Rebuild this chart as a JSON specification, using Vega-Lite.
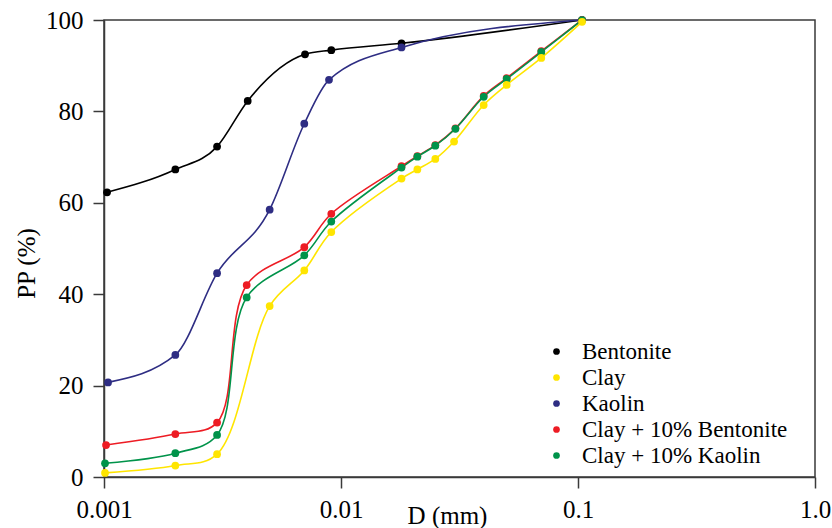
{
  "$schema": "https://vega.github.io/schema/vega-lite/v6.json",
  "width": 711,
  "height": 457,
  "autosize": {"type": "none"},
  "padding": {"left": 104, "top": 20, "right": 17, "bottom": 51},
  "background": "white",
  "config": {
    "font": "Liberation Serif",
    "view": {"stroke": "#3a3a3a", "strokeWidth": 1.5},
    "axis": {
      "labelFont": "Liberation Serif",
      "titleFont": "Liberation Serif",
      "labelFontSize": 25,
      "titleFontSize": 25,
      "titleFontWeight": "normal",
      "labelColor": "#000000",
      "titleColor": "#000000",
      "domainColor": "#3a3a3a",
      "tickColor": "#3a3a3a",
      "domainWidth": 1.5,
      "tickWidth": 1.5,
      "tickSize": 11,
      "grid": false
    },
    "legend": {
      "labelFont": "Liberation Serif",
      "labelFontSize": 23,
      "labelColor": "#000000",
      "labelLimit": 400
    }
  },
  "data": {
    "values": [
      {"s": "Bentonite", "d": 0.00103, "pp": 62.3},
      {"s": "Bentonite", "d": 0.002, "pp": 67.3},
      {"s": "Bentonite", "d": 0.003, "pp": 72.3},
      {"s": "Bentonite", "d": 0.00404, "pp": 82.3},
      {"s": "Bentonite", "d": 0.00705, "pp": 92.5},
      {"s": "Bentonite", "d": 0.0091, "pp": 93.4},
      {"s": "Bentonite", "d": 0.018, "pp": 94.9},
      {"s": "Bentonite", "d": 0.104, "pp": 100},
      {"s": "Kaolin", "d": 0.00104, "pp": 20.7},
      {"s": "Kaolin", "d": 0.002, "pp": 26.7},
      {"s": "Kaolin", "d": 0.003, "pp": 44.6},
      {"s": "Kaolin", "d": 0.005, "pp": 58.5},
      {"s": "Kaolin", "d": 0.007, "pp": 77.3},
      {"s": "Kaolin", "d": 0.0089, "pp": 86.9},
      {"s": "Kaolin", "d": 0.018, "pp": 94.0},
      {"s": "Kaolin", "d": 0.104, "pp": 100},
      {"s": "Clay + 10% Bentonite", "d": 0.00102, "pp": 7.0},
      {"s": "Clay + 10% Bentonite", "d": 0.002, "pp": 9.4},
      {"s": "Clay + 10% Bentonite", "d": 0.003, "pp": 11.9},
      {"s": "Clay + 10% Bentonite", "d": 0.004, "pp": 42.0},
      {"s": "Clay + 10% Bentonite", "d": 0.007, "pp": 50.3},
      {"s": "Clay + 10% Bentonite", "d": 0.0091, "pp": 57.6},
      {"s": "Clay + 10% Bentonite", "d": 0.018, "pp": 68.0},
      {"s": "Clay + 10% Bentonite", "d": 0.021, "pp": 70.2},
      {"s": "Clay + 10% Bentonite", "d": 0.025, "pp": 72.6},
      {"s": "Clay + 10% Bentonite", "d": 0.0304, "pp": 76.3},
      {"s": "Clay + 10% Bentonite", "d": 0.04, "pp": 83.4},
      {"s": "Clay + 10% Bentonite", "d": 0.05, "pp": 87.3},
      {"s": "Clay + 10% Bentonite", "d": 0.07, "pp": 93.2},
      {"s": "Clay + 10% Bentonite", "d": 0.104, "pp": 100},
      {"s": "Clay + 10% Kaolin", "d": 0.00101, "pp": 3.0},
      {"s": "Clay + 10% Kaolin", "d": 0.002, "pp": 5.2},
      {"s": "Clay + 10% Kaolin", "d": 0.003, "pp": 9.2},
      {"s": "Clay + 10% Kaolin", "d": 0.004, "pp": 39.3},
      {"s": "Clay + 10% Kaolin", "d": 0.007, "pp": 48.5},
      {"s": "Clay + 10% Kaolin", "d": 0.0091, "pp": 55.9},
      {"s": "Clay + 10% Kaolin", "d": 0.018, "pp": 67.7},
      {"s": "Clay + 10% Kaolin", "d": 0.021, "pp": 70.1},
      {"s": "Clay + 10% Kaolin", "d": 0.025, "pp": 72.5},
      {"s": "Clay + 10% Kaolin", "d": 0.0304, "pp": 76.2},
      {"s": "Clay + 10% Kaolin", "d": 0.04, "pp": 83.2},
      {"s": "Clay + 10% Kaolin", "d": 0.05, "pp": 87.1},
      {"s": "Clay + 10% Kaolin", "d": 0.07, "pp": 93.0},
      {"s": "Clay + 10% Kaolin", "d": 0.104, "pp": 100},
      {"s": "Clay", "d": 0.00101, "pp": 0.9},
      {"s": "Clay", "d": 0.002, "pp": 2.5},
      {"s": "Clay", "d": 0.003, "pp": 5.0},
      {"s": "Clay", "d": 0.005, "pp": 37.4},
      {"s": "Clay", "d": 0.007, "pp": 45.2},
      {"s": "Clay", "d": 0.0091, "pp": 53.6},
      {"s": "Clay", "d": 0.018, "pp": 65.3},
      {"s": "Clay", "d": 0.021, "pp": 67.3},
      {"s": "Clay", "d": 0.025, "pp": 69.6},
      {"s": "Clay", "d": 0.03, "pp": 73.4},
      {"s": "Clay", "d": 0.04, "pp": 81.4},
      {"s": "Clay", "d": 0.05, "pp": 85.8},
      {"s": "Clay", "d": 0.07, "pp": 91.7},
      {"s": "Clay", "d": 0.104, "pp": 99.6}
    ]
  },
  "encoding": {
    "x": {
      "field": "d",
      "type": "quantitative",
      "scale": {"type": "log", "domain": [0.001, 1], "nice": false},
      "axis": {
        "values": [0.001, 0.01, 0.1, 1],
        "labelExpr": "datum.value == 1 ? '1.0' : toString(datum.value)",
        "labelPadding": 9,
        "labelFlush": false,
        "title": "D (mm)",
        "titleX": 343,
        "titleY": 46,
        "titleBaseline": "alphabetic",
        "titleAlign": "center"
      }
    },
    "y": {
      "field": "pp",
      "type": "quantitative",
      "scale": {"domain": [0, 100], "nice": false},
      "axis": {
        "values": [0, 20, 40, 60, 80, 100],
        "labelPadding": 10,
        "title": "PP (%)",
        "titleX": -78,
        "titleY": 243,
        "titleAlign": "center",
        "titleBaseline": "middle"
      }
    },
    "color": {
      "field": "s",
      "type": "nominal",
      "scale": {
        "domain": ["Bentonite", "Clay", "Kaolin", "Clay + 10% Bentonite", "Clay + 10% Kaolin"],
        "range": ["#000000", "#FFE500", "#2E2D83", "#ED1C24", "#00934A"]
      },
      "legend": {
        "orient": "none",
        "legendX": 441,
        "legendY": 320,
        "title": null,
        "symbolType": "circle",
        "symbolSize": 45,
        "symbolStrokeWidth": 0,
        "labelOffset": 14,
        "labelLimit": 400,
        "rowPadding": 2,
        "padding": 0
      }
    }
  },
  "layer": [
    {
      "transform": [{"filter": "datum.s == 'Bentonite' || datum.s == 'Kaolin'"}],
      "mark": {"type": "line", "interpolate": "monotone", "strokeWidth": 1.6}
    },
    {
      "transform": [{"filter": "datum.s != 'Bentonite' && datum.s != 'Kaolin'"}],
      "mark": {"type": "line", "interpolate": "catmull-rom", "strokeWidth": 1.6}
    },
    {
      "mark": {"type": "circle", "size": 60, "opacity": 1}
    }
  ]
}
